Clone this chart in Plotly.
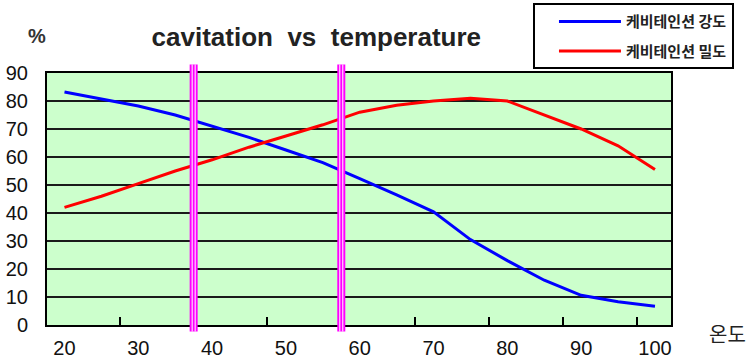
import plotly.graph_objects as go

# ---- data ----
temperature = [20, 25, 30, 35, 40, 45, 50, 55, 60, 65, 70, 75, 80, 85, 90, 95, 100]
intensity = [83.2, 80.8, 78.2, 75.0, 71.0, 67.0, 62.5, 58.0, 52.3, 46.5, 40.4, 30.5, 23.0, 16.0, 10.6, 8.3, 6.7]
density = [42.0, 46.0, 50.5, 55.0, 59.0, 63.5, 67.5, 71.5, 76.0, 78.5, 80.0, 81.0, 80.0, 75.0, 70.0, 64.0, 55.5]
x_labels = [20, 30, 40, 50, 60, 70, 80, 90, 100]
tick_marks = [27.5, 37.5, 47.5, 57.5, 67.5, 77.5, 87.5, 97.5]
markers = [37.5, 57.5]
series_names = ["케비테인션 강도", "케비테인션 밀도"]
title_text = "cavitation  vs  temperature"
y_unit = "%"
x_title = "온도"

KR = "Noto Sans CJK KR"
NUM = "Liberation Sans"
XR = [17.63, 102.17]

fig = go.Figure()
fig.add_trace(go.Scatter(x=temperature, y=intensity, mode="lines", name=series_names[0],
                         line=dict(color="#0000FF", width=3), legendgroup="a"))
fig.add_trace(go.Scatter(x=temperature, y=density, mode="lines", name=series_names[1],
                         line=dict(color="#FF0000", width=3), legendgroup="b"))
# invisible trace on second x axis to carry tick marks
fig.add_trace(go.Scatter(x=[XR[0]], y=[0], xaxis="x2", mode="markers",
                         marker=dict(opacity=0), showlegend=False, hoverinfo="skip"))

for m in markers:
    fig.add_shape(type="rect", xref="x", yref="paper", xsizemode="pixel", xanchor=m,
                  x0=-4, x1=4, y0=-0.026, y1=1.034, fillcolor="#FF00FF", line_width=0, layer="above")
    for off in (-1.5, 1.5):
        fig.add_shape(type="line", xref="x", yref="paper", xsizemode="pixel", xanchor=m,
                      x0=off, x1=off, y0=-0.026, y1=1.034, line=dict(color="white", width=1), layer="above")

fig.update_layout(
    width=750, height=359,
    margin=dict(l=47, r=79, t=73, b=34, autoexpand=False),
    paper_bgcolor="white",
    plot_bgcolor="#CCFFCC",
    font=dict(family=KR, color="black", size=19),
    title=dict(text=title_text, x=0.4316, xref="paper", xanchor="center", y=1 - 37 / 359, yref="container",
               yanchor="middle", font=dict(family="Liberation Sans", size=26, color="#222", weight="bold")),
    showlegend=True,
    legend=dict(x=0.7788, y=1.2766, xanchor="left", yanchor="top", xref="paper", yref="paper",
                bgcolor="white", bordercolor="black", borderwidth=2,
                font=dict(family=KR, size=15, color="#222", weight="bold"), tracegroupgap=7,
                itemwidth=62, indentation=19, traceorder="grouped"),
    xaxis=dict(range=XR, tickmode="array", tickvals=x_labels, ticktext=[str(v) for v in x_labels],
               ticks="", showgrid=False, zeroline=False, showline=True, linecolor="black", linewidth=2,
               mirror=True, ticklabelstandoff=4, tickfont=dict(size=20, family=NUM, color="#111")),
    xaxis2=dict(range=XR, overlaying="x", anchor="y", side="bottom", tickmode="array", tickvals=tick_marks,
                ticks="inside", ticklen=8, tickwidth=2, tickcolor="black", showticklabels=False,
                showgrid=False, zeroline=False, showline=False),
    yaxis=dict(range=[0, 90], dtick=10, tick0=0, ticks="", showgrid=True, gridcolor="#1a1a1a", gridwidth=2,
               zeroline=False, showline=True, linecolor="black", linewidth=2, mirror=True,
               ticklabelstandoff=13, tickfont=dict(size=20, family=NUM, color="#111")),
)

fig.add_annotation(text=y_unit, xref="paper", yref="paper", x=-0.0168, y=1.1456, showarrow=False,
                   font=dict(size=20, family="Liberation Sans", color="#333", weight="bold"),
                   xanchor="center", yanchor="middle")
fig.add_annotation(text=x_title, xref="paper", yref="paper", x=1.0905, y=-0.033, showarrow=False,
                   font=dict(size=20, family=KR, color="#222"), xanchor="center", yanchor="middle")

fig.write_html("out.html", config={"displayModeBar": False},
               post_script="document.body.style.margin='0';document.body.style.overflow='hidden';")
